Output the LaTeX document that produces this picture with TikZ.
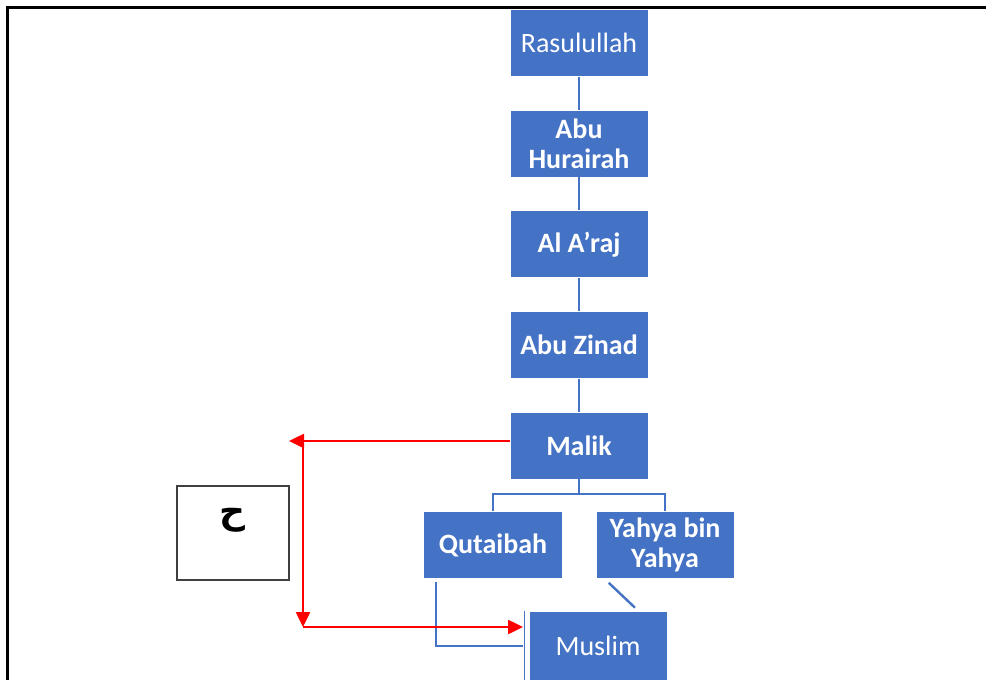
\documentclass[tikz,border=0pt]{standalone}
\usepackage{fontspec}
\setmainfont{Carlito}
\newfontfamily\arabicfont[Script=Arabic]{DejaVu Sans}
\TeXXeTstate=1
\usetikzlibrary{positioning, arrows.meta}
\definecolor{boxblue}{RGB}{68,114,196}

\begin{document}
\begin{tikzpicture}[x=1pt, y=-1pt,
    person/.style={rectangle, fill=boxblue, draw=white, line width=0.6pt, text=white,
        minimum width=138pt, minimum height=67pt, inner sep=2pt, align=center,
        font=\fontsize{28}{30}\selectfont},
    bperson/.style={person, font=\fontsize{28}{30}\selectfont\bfseries},
    link/.style={draw=boxblue, line width=2.4pt},
    redarrow/.style={draw=red, line width=2.5pt, -{Triangle[length=15pt,width=14pt]}},
    node distance=33pt]

\useasboundingbox (0,0) rectangle (986,680);
\draw[line width=3pt] (7,680) -- (7,7) -- (986,7);

\node[person] (rasul) at (579,43) {Rasulullah};
\node[bperson, below=of rasul] (hurairah) {Abu\\Hurairah};
\node[bperson, below=of hurairah] (araj) {Al A'raj};
\node[bperson, below=of araj] (zinad) {Abu Zinad};
\node[bperson, below=of zinad] (malik) {Malik};
\node[bperson, minimum width=139pt] (qutaibah) at (493,545) {Qutaibah};
\node[bperson] (yahya) at (665,545) {Yahya bin\\Yahya};
\node[person, minimum height=70pt] (muslim) at (598,646) {Muslim};

\draw[link] (rasul) -- (hurairah);
\draw[link] (hurairah) -- (araj);
\draw[link] (araj) -- (zinad);
\draw[link] (zinad) -- (malik);
\coordinate (fork) at (579,494);
\draw[link] (malik) -- (fork);
\draw[link] (qutaibah.north) |- (fork) -| (yahya.north);
\draw[link] ([xshift=13pt,yshift=-3pt]qutaibah.south west) |- ([xshift=-6pt]muslim.west);
\draw[link] ([xshift=13pt,yshift=-4pt]yahya.south west) -- ([xshift=37pt,yshift=3pt]muslim.north);
\draw[draw=boxblue, line width=1pt] ([xshift=-4pt]muslim.north west) -- ([xshift=-4pt]muslim.south west);

\node[rectangle, draw=black!75, line width=1.5pt, minimum width=112pt, minimum height=94pt] (habox) at (233,533) {};
\node[font=\fontsize{36}{38}\selectfont\bfseries] (ha) at (232,520) {\arabicfont\beginR ح\endR};

\coordinate (redleft) at (289,441);
\coordinate (redtop) at (303,441);
\coordinate (redbot) at (303,627);
\coordinate (redend) at (523,627);
\draw[redarrow] (malik.west |- redtop) -- (redleft);
\draw[redarrow] (redtop) -- (redbot);
\draw[redarrow] (redbot) -- (redend);
\end{tikzpicture}
\end{document}
